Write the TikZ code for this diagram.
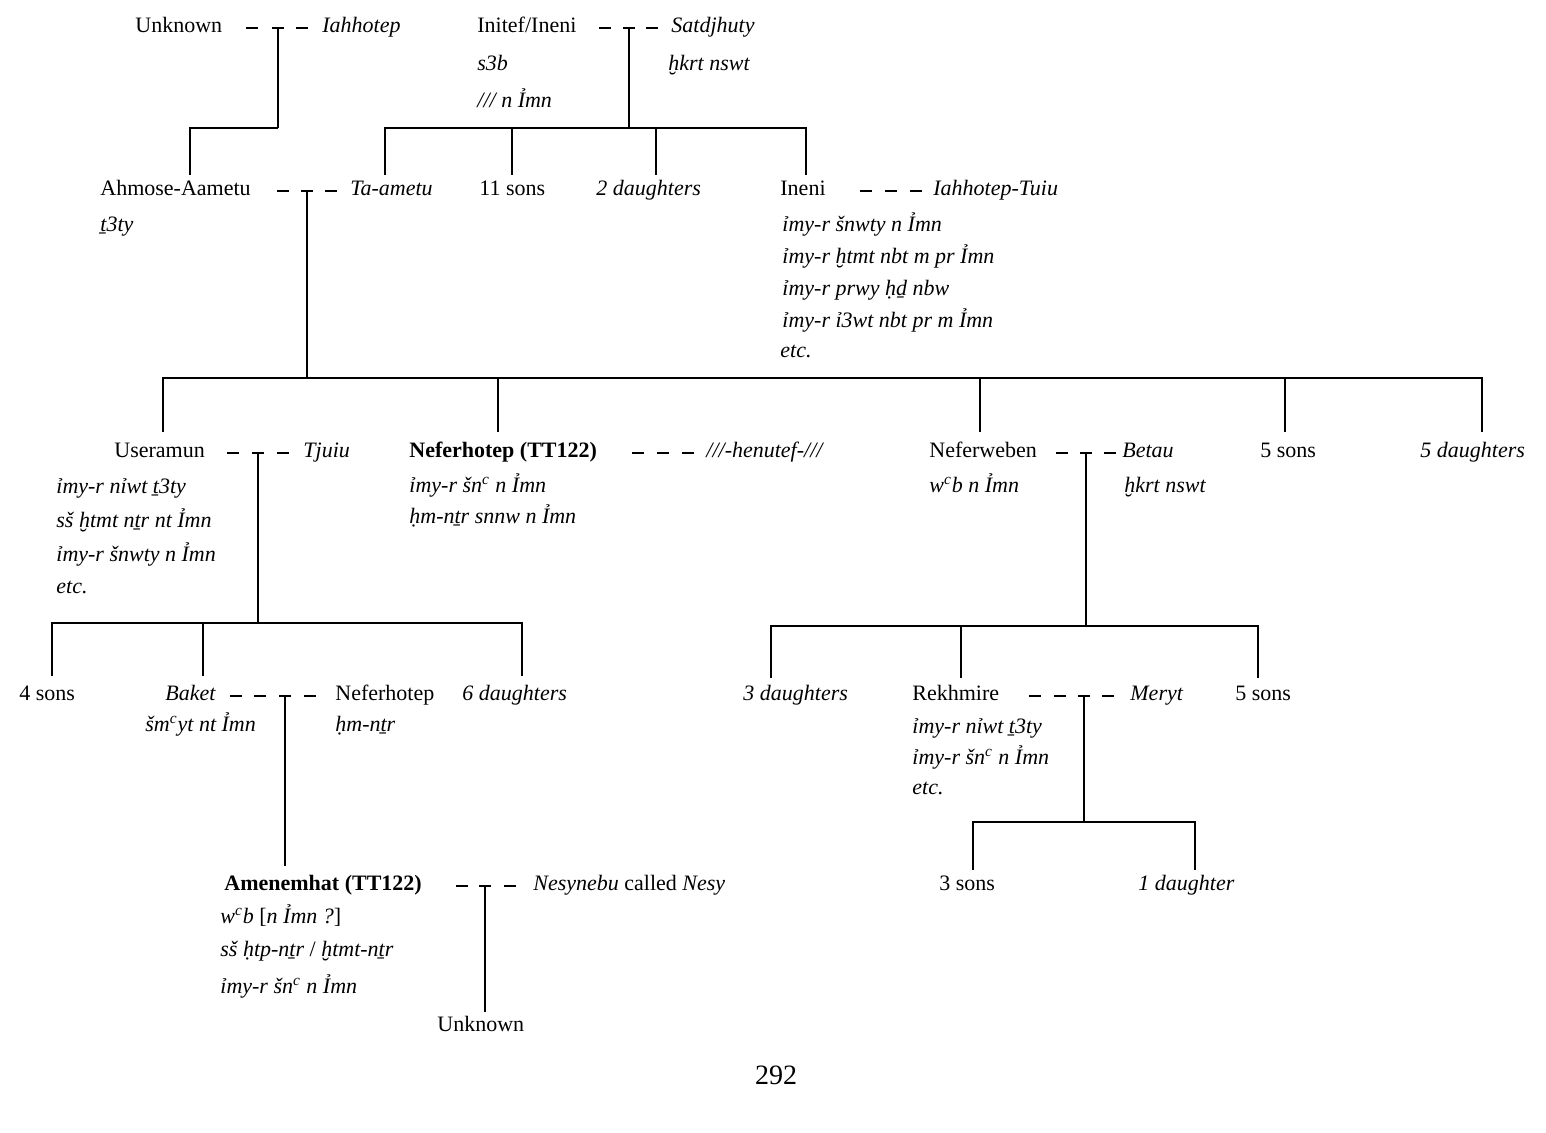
\documentclass[tikz,border=0pt]{standalone}
\usepackage{fontspec}
\setmainfont{Liberation Serif}
\newcommand{\ay}{\textsuperscript{c}}
\newcommand{\Y}{Ỉ}
\newcommand{\lbl}[3]{\node[txt] at (#1,#2) {#3};}
\newcommand{\dsh}[2]{\draw[ln] (#1-6,#2)--(#1+6,#2);}
\newcommand{\tee}[3]{\draw[ln] (#1-6,#2)--(#1+6,#2); \draw[ln] (#1,#2)--(#1,#3);}
\begin{document}
\begin{tikzpicture}[x=0.5pt,y=-0.5pt,
  txt/.style={anchor=mid west,inner sep=0pt,font=\fontsize{11}{13}\selectfont},
  ln/.style={line width=0.55pt}]
\useasboundingbox (0,0) rectangle (1546,1133);
% Row 1
\lbl{135}{28}{Unknown}\dsh{252}{28}\tee{278}{28}{128}\dsh{302}{28}\lbl{322}{28}{\itshape Iahhotep}
\draw[ln] (278,128)--(190,128)--(190,175);
\lbl{477}{28}{Initef/Ineni}\dsh{605}{28}\tee{629}{28}{128}\dsh{652}{28}\lbl{671}{28}{\itshape Satdjhuty}
\lbl{477}{66}{\itshape s3b}\lbl{477}{103}{\itshape /// n \Y mn}\lbl{668}{66}{\itshape ḫkrt nswt}
\draw[ln] (385,175)--(385,128)--(806,128)--(806,175);
\draw[ln] (512,128)--(512,175);\draw[ln] (656,128)--(656,175);
% Row 2
\lbl{100}{191}{Ahmose-Aametu}\dsh{283}{191}\tee{307}{191}{378}\dsh{331}{191}\lbl{350}{191}{\itshape Ta-ametu}
\lbl{100}{227}{\itshape ṯ3ty}
\lbl{479}{191}{11 sons}\lbl{596}{191}{\itshape 2 daughters}
\lbl{780}{191}{Ineni}\dsh{866}{191}\dsh{891}{191}\dsh{916}{191}\lbl{933}{191}{\itshape Iahhotep-Tuiu}
\lbl{782}{227}{\itshape ỉmy-r šnwty n \Y mn}
\lbl{782}{259}{\itshape ỉmy-r ḫtmt nbt m pr \Y mn}
\lbl{782}{291}{\itshape ỉmy-r prwy ḥḏ nbw}
\lbl{782}{323}{\itshape ỉmy-r ỉ3wt nbt pr m \Y mn}
\lbl{780}{353}{\itshape etc.}
\draw[ln] (163,432)--(163,378)--(1482,378)--(1482,432);
\foreach \x in {498,980,1285} \draw[ln] (\x,378)--(\x,432);
% Row 3
\lbl{114}{453}{Useramun}\dsh{233}{453}\tee{258}{453}{623}\dsh{283}{453}\lbl{303}{453}{\itshape Tjuiu}
\lbl{56}{489}{\itshape ỉmy-r nỉwt ṯ3ty}
\lbl{56}{523}{\itshape sš ḫtmt nṯr nt \Y mn}
\lbl{56}{557}{\itshape ỉmy-r šnwty n \Y mn}
\lbl{56}{589}{\itshape etc.}
\lbl{409}{453}{\bfseries Neferhotep (TT122)}\dsh{638}{453}\dsh{663}{453}\dsh{688}{453}\lbl{706}{453}{\itshape ///-henutef-///}
\lbl{409}{488}{\itshape ỉmy-r šn\ay{} n \Y mn}
\lbl{409}{519}{\itshape ḥm-nṯr snnw n \Y mn}
\lbl{929}{453}{Neferweben}\dsh{1062}{453}\tee{1086}{453}{626}\dsh{1110}{453}\lbl{1122}{453}{\itshape Betau}
\lbl{929}{488}{\itshape w\ay b n \Y mn}\lbl{1124}{488}{\itshape ḫkrt nswt}
\lbl{1260}{453}{5 sons}\lbl{1420}{453}{\itshape 5 daughters}
\draw[ln] (52,676)--(52,623)--(522,623)--(522,676);\draw[ln] (203,623)--(203,676);
\draw[ln] (771,678)--(771,626)--(1258,626)--(1258,678);\draw[ln] (961,626)--(961,678);
% Row 4
\lbl{19}{696}{4 sons}
\lbl{165}{696}{\itshape Baket}\dsh{236}{696}\dsh{260}{696}\tee{285}{696}{866}\dsh{310}{696}\lbl{335}{696}{Neferhotep}
\lbl{462}{696}{\itshape 6 daughters}
\lbl{145}{727}{\itshape šm\ay yt nt \Y mn}\lbl{335}{727}{\itshape ḥm-nṯr}
\lbl{743}{696}{\itshape 3 daughters}
\lbl{912}{696}{Rekhmire}\dsh{1035}{696}\dsh{1060}{696}\tee{1084}{696}{822}\dsh{1108}{696}\lbl{1130}{696}{\itshape Meryt}
\lbl{1235}{696}{5 sons}
\lbl{912}{729}{\itshape ỉmy-r nỉwt ṯ3ty}
\lbl{912}{760}{\itshape ỉmy-r šn\ay{} n \Y mn}
\lbl{912}{790}{\itshape etc.}
\draw[ln] (973,870)--(973,822)--(1195,822)--(1195,870);
% Row 5
\lbl{224}{886}{\bfseries Amenemhat (TT122)}\dsh{462}{886}\tee{485}{886}{1012}\dsh{510}{886}
\lbl{533}{886}{\itshape Nesynebu \upshape called \itshape Nesy}
\lbl{220}{919}{\itshape w\ay b \upshape[\itshape n \Y mn ?\upshape]}
\lbl{220}{952}{\itshape sš ḥtp-nṯr \upshape/\itshape{} ḫtmt-nṯr}
\lbl{220}{989}{\itshape ỉmy-r šn\ay{} n \Y mn}
\lbl{437}{1027}{Unknown}
\lbl{939}{886}{3 sons}\lbl{1138}{886}{\itshape 1 daughter}
\node[anchor=mid,inner sep=0pt,font=\fontsize{14}{16}\selectfont] at (776,1080) {292};
\end{tikzpicture}
\end{document}
